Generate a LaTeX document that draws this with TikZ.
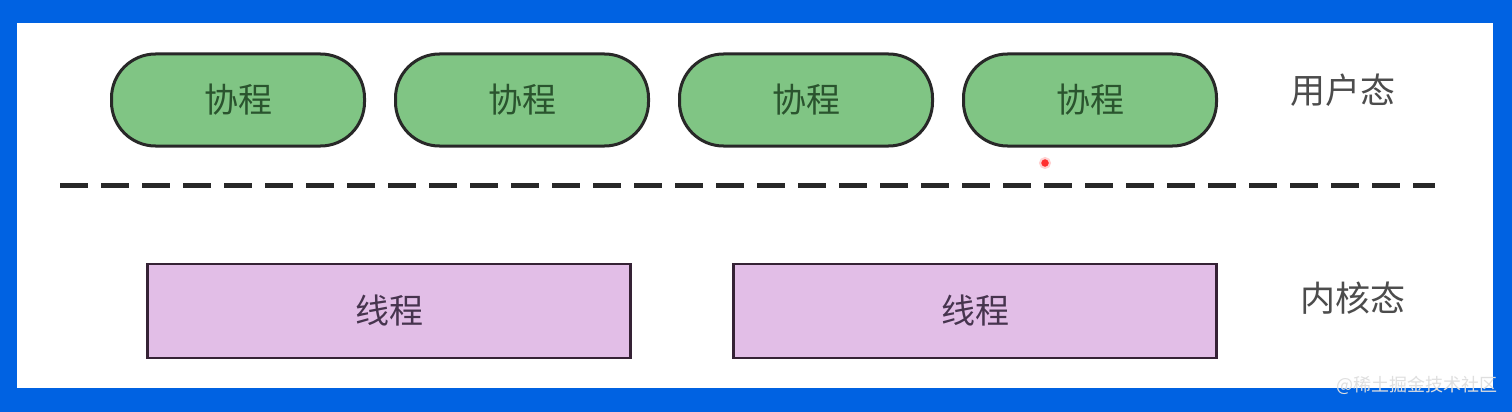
\documentclass[tikz,border=0pt]{standalone}
\usepackage{fontspec}
\setmainfont{Noto Sans CJK SC}
\usetikzlibrary{positioning}

\definecolor{frameblue}{RGB}{0,98,226}
\definecolor{coroutinegreen}{RGB}{128,197,132}
\definecolor{threadpink}{RGB}{226,190,231}
\definecolor{outline}{RGB}{40,40,40}
\definecolor{cotext}{RGB}{42,84,46}
\definecolor{thtext}{RGB}{70,52,78}

\begin{document}
\begin{tikzpicture}[x=1pt, y=-1pt, node distance=28pt]
    % Define styles
    \tikzstyle{coroutine} = [draw=outline, line width=3pt, fill=coroutinegreen, rounded corners=44pt, minimum width=253pt, minimum height=92pt, inner sep=0pt, text=cotext, font=\fontsize{34}{40}\selectfont]
    \tikzstyle{thread} = [draw=outline!85!violet, line width=2.5pt, fill=threadpink, minimum width=483pt, minimum height=94pt, inner sep=0pt, text=thtext, font=\fontsize{34}{40}\selectfont]
    \tikzstyle{layer} = [text=black!70, font=\fontsize{35}{40}\selectfont]
    \tikzstyle{divider} = [draw=outline, line width=5pt, dash pattern=on 28pt off 13pt]

    % Frame
    \useasboundingbox (0,0) rectangle (1512,412);
    \fill[frameblue] (0,0) rectangle (1512,412);
    \fill[white] (17,23) rectangle (1493,388);

    % User space: coroutines
    \node[coroutine] (co1) at (238,100) {协程};
    \node[coroutine, right=of co1] (co2) {协程};
    \node[coroutine, right=of co2] (co3) {协程};
    \node[coroutine, right=of co3] (co4) {协程};
    \node[layer] (user) at (1343,90) {用户态};

    % Pointer dot
    \node[circle, fill=red!75!pink, draw=pink!70, line width=2pt, inner sep=0pt, minimum size=10pt] (dot) at (1045,163) {};

    % Divider
    \coordinate (dl) at (60,185);
    \coordinate (dr) at (1435,185);
    \draw[divider] (dl) -- (dr);

    % Kernel space: threads
    \node[thread] (th1) at (389,311) {线程};
    \node[thread] (th2) at (975,311) {线程};
    \node[layer] (kernel) at (1353,298) {内核态};

    % Watermark
    \node[text=white!75!gray, font=\fontsize{18}{20}\selectfont] (mark) at (1417,385) {@稀土掘金技术社区};
\end{tikzpicture}
\end{document}
